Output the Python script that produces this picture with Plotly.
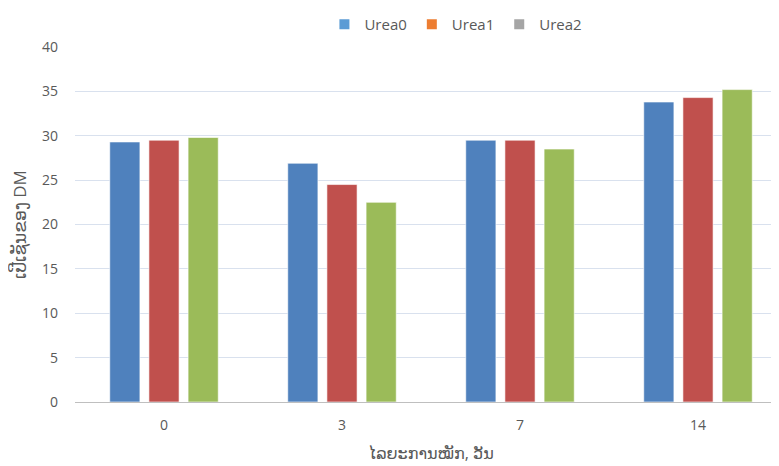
import plotly.graph_objects as go

categories = ["0", "3", "7", "14"]
urea0 = [29.3, 26.9, 29.5, 33.8]
urea1 = [29.5, 24.5, 29.5, 34.3]
urea2 = [29.8, 22.5, 28.5, 35.2]
series_names = ["Urea0", "Urea1", "Urea2"]
bar_colors = ["#4F81BD", "#C0504D", "#9BBB59"]
legend_colors = ["#5B9BD5", "#ED7D31", "#A5A5A5"]
y_ticks = [0, 5, 10, 15, 20, 25, 30, 35, 40]

fig = go.Figure()
for name, vals, col in zip(series_names, [urea0, urea1, urea2], bar_colors):
    fig.add_trace(go.Bar(x=categories, y=vals, name=name, showlegend=False,
                         marker=dict(color=col, line=dict(color="rgba(255,255,255,0.6)", width=1))))
for name, col in zip(series_names, legend_colors):
    fig.add_trace(go.Scatter(x=[None], y=[None], mode="markers", name=name,
                             marker=dict(symbol="square", size=10, color=col)))

font_fam = "Open Sans, DejaVu Sans, sans-serif"
fig.update_layout(
    width=779, height=466,
    paper_bgcolor="white", plot_bgcolor="white",
    barmode="group", bargap=0.34, bargroupgap=0.23,
    margin=dict(l=67, r=0, t=39, b=72, autoexpand=False),
    font=dict(family=font_fam, color="#595959", size=14),
    legend=dict(orientation="h", x=0.535, xanchor="center", y=1.0, yref="container", yanchor="top",
                font=dict(size=15, color="#595959"), itemwidth=30, tracegroupgap=0),
    xaxis=dict(type="category", range=[-0.5, 3.5], showgrid=False, automargin=False,
               showline=True, linecolor="#BFBFBF", linewidth=1, ticks="",
               ticklabelstandoff=10,
               tickfont=dict(size=14, color="#595959"),
               title=dict(text="ໄລຍະການໝັກ, ວັນ", font=dict(size=16, color="#595959"), standoff=15)),
    yaxis=dict(range=[0, 40], tickvals=y_ticks, showgrid=True, gridcolor="#D9E1EE", gridwidth=1,
               zeroline=False, showline=False, ticks="", ticklabelstandoff=16, automargin=False,
               tickfont=dict(size=14, color="#595959"),
               title=dict(text="ເປີເຊັນຂອງ DM", font=dict(size=17, color="#595959"), standoff=12)),
)
fig.write_html("out.html")
